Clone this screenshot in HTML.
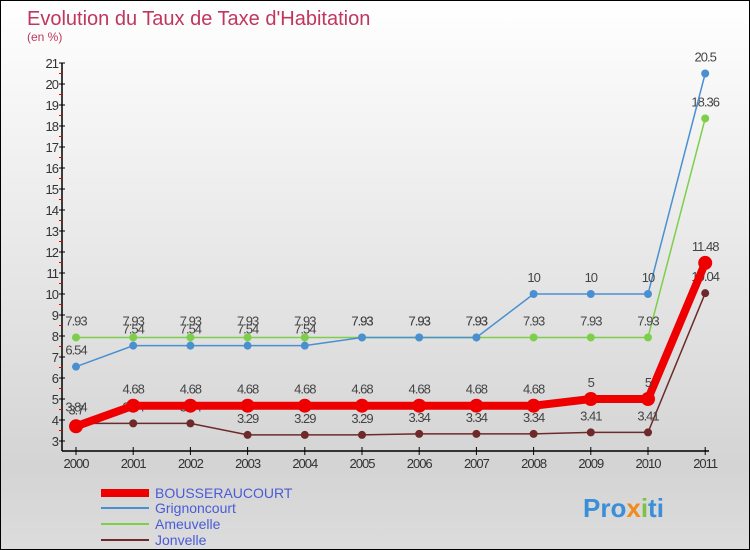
<!DOCTYPE html>
<html><head><meta charset="utf-8"><style>
body{margin:0}
#c{width:748px;height:548px;border:1px solid #000;background:linear-gradient(#fff,#d4d4d4 85%,#dcdcdc);position:relative;font-family:"Liberation Sans",sans-serif;overflow:hidden}
</style></head><body>
<div id="c">
<svg width="748" height="548" id="s">
<text x="26" y="24" font-size="20" fill="#c0365e">Evolution du Taux de Taxe d'Habitation</text>
<text x="26" y="40" font-size="12" fill="#c0365e">(en %)</text>
<g id="ax"></g><g id="ser"></g>
<g font-size="14">
<line x1="100" y1="492" x2="148" y2="492" stroke="#e00" stroke-width="8"/><text x="154" y="497" fill="#4a5bd6">BOUSSERAUCOURT</text>
<line x1="100" y1="507" x2="148" y2="507" stroke="#4a90d0" stroke-width="2"/><text x="154" y="512" fill="#4a5bd6">Grignoncourt</text>
<line x1="100" y1="523" x2="148" y2="523" stroke="#7dcf4a" stroke-width="2"/><text x="154" y="528" fill="#4a5bd6">Ameuvelle</text>
<line x1="100" y1="539" x2="148" y2="539" stroke="#6e2a2a" stroke-width="2"/><text x="154" y="544" fill="#4a5bd6">Jonvelle</text>
</g>
<text x="582" y="516" font-size="26" font-weight="bold" fill="#3a8fd8">Pro<tspan fill="#f08a1c">x</tspan><tspan fill="#7dc242">i</tspan>ti</text>
</svg></div>
<script>
const years=[2000,2001,2002,2003,2004,2005,2006,2007,2008,2009,2010,2011];
const bousseraucourt=[3.7,4.68,4.68,4.68,4.68,4.68,4.68,4.68,4.68,5,5,11.48];
const grignoncourt=[6.54,7.54,7.54,7.54,7.54,7.93,7.93,7.93,10,10,10,20.5];
const ameuvelle=[7.93,7.93,7.93,7.93,7.93,7.93,7.93,7.93,7.93,7.93,7.93,18.36];
const jonvelle=[3.84,3.84,3.84,3.29,3.29,3.29,3.34,3.34,3.34,3.41,3.41,10.04];
const yTicks=[3,4,5,6,7,8,9,10,11,12,13,14,15,16,17,18,19,20,21];
const NS="http://www.w3.org/2000/svg";
const X=i=>75+i*57.2, Y=v=>440-(v-3)*21;
function mk(p,t,a){const e=document.createElementNS(NS,t);for(const k in a)e.setAttribute(k,a[k]);p.appendChild(e);return e;}
const ax=document.getElementById('ax');
mk(ax,'line',{x1:61,y1:Y(21),x2:61,y2:450,stroke:'#000','stroke-width':1.5});
mk(ax,'line',{x1:61,y1:450,x2:708,y2:450,stroke:'#000','stroke-width':1.5});
yTicks.forEach(v=>{
 mk(ax,'line',{x1:58,y1:Y(v),x2:64,y2:Y(v),stroke:'#000'});
 if(v<21) mk(ax,'line',{x1:58,y1:Y(v+0.5),x2:61,y2:Y(v+0.5),stroke:'#e00'});
 const t=mk(ax,'text',{x:57,y:Y(v)+5,'text-anchor':'end','font-size':13,fill:'#333','letter-spacing':'-1'});
 t.textContent=v;
 
 
});
years.forEach((y,i)=>{
 mk(ax,'line',{x1:X(i),y1:446,x2:X(i),y2:454,stroke:'#000'});
 const t=mk(ax,'text',{x:X(i),y:467,'text-anchor':'middle','font-size':13,fill:'#333','letter-spacing':'-1'});
 t.textContent=y;
 
 
});
const ser=document.getElementById('ser');
function draw(data,col,w,r,name){
 const g=mk(ser,'g',{});
 
 
 mk(g,'polyline',{points:data.map((v,i)=>X(i)+','+Y(v)).join(' '),fill:'none',stroke:col,'stroke-width':w});
 data.forEach((v,i)=>{
  const c=mk(g,'circle',{cx:X(i),cy:Y(v),r:r,fill:col});
  
  
  const t=mk(g,'text',{x:X(i),y:Y(v)-12,'text-anchor':'middle','font-size':13,fill:'#444','letter-spacing':'-1'});
  t.textContent=v;
  
  
 });
}
draw(ameuvelle,'#7dcf4a',1.5,4,'ameuvelle');
draw(grignoncourt,'#4a90d0',1.5,4,'grignoncourt');
draw(jonvelle,'#6e2a2a',1.5,4,'jonvelle');
draw(bousseraucourt,'#e00',8,7,'bousseraucourt');
</script>
</body></html>
